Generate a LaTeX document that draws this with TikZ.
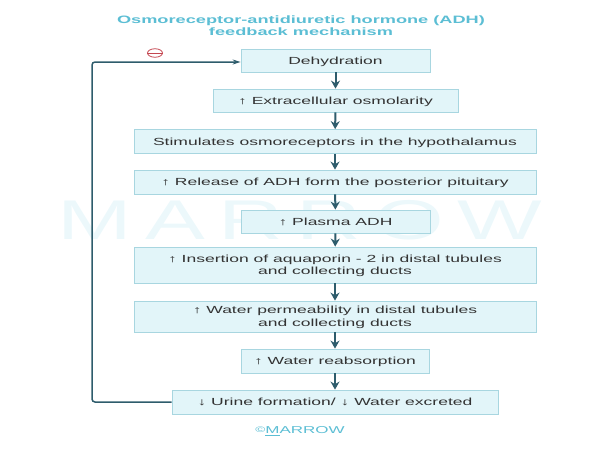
\documentclass[tikz,border=0pt]{standalone}
\usepackage{fontspec}
\setmainfont{Liberation Sans}
\newfontfamily\boxfont[FakeStretch=1.7]{Liberation Sans}
\newfontfamily\markfont[FakeStretch=1.6, LetterSpace=24]{Liberation Sans}
\usetikzlibrary{arrows.meta, positioning, shapes.geometric}
\definecolor{boxfill}{RGB}{226,245,249}
\definecolor{boxline}{RGB}{168,214,224}
\definecolor{flowline}{RGB}{46,92,108}
\definecolor{titlecyan}{RGB}{92,190,212}
\definecolor{markcyan}{RGB}{236,248,251}
\definecolor{minusred}{RGB}{196,70,80}

\begin{document}
\begin{tikzpicture}[
    x=1pt, y=-1pt,
    stepbox/.style={rectangle, draw=boxline, fill=boxfill, line width=0.8pt,
        inner sep=0pt, align=center, text depth=0pt,
        font=\boxfont\fontsize{10.3}{12.5}\selectfont, text=black!80},
    flow/.style={-{Stealth[length=8pt, width=9pt]}, line width=2pt, flowline},
    feedback/.style={-{Stealth[length=8pt, width=5pt]}, line width=1.5pt, flowline,
        rounded corners=3pt}
]
\useasboundingbox (0,0) rectangle (600,450);

% Wasserzeichen
\node (mark) at (300,220) {\markfont\fontsize{56}{56}\selectfont\color{markcyan}MARROW};

% Titel
\node[align=center, text=titlecyan, font=\boxfont\bfseries\fontsize{10.7}{12}\selectfont]
    (title) at (301,26) {Osmoreceptor-antidiuretic hormone (ADH)\\feedback mechanism};

% Kästen der Kette
\node[stepbox, minimum width=189, minimum height=23] (dehyd) at (335.5,60.5) {Dehydration};
\node[stepbox, minimum width=245, minimum height=23] (osmol) at (335.5,100.5) {↑ Extracellular osmolarity};
\node[stepbox, minimum width=402, minimum height=24] (recept) at (335,141.5) {Stimulates osmoreceptors in the hypothalamus};
\node[stepbox, minimum width=402, minimum height=24] (release) at (335,182) {↑ Release of ADH form the posterior pituitary};
\node[stepbox, minimum width=189, minimum height=23] (plasma) at (335.5,221.5) {↑ Plasma ADH};
\node[stepbox, minimum width=402, minimum height=36] (aqua) at (335,265) {↑ Insertion of aquaporin - 2 in distal tubules\\and collecting ducts};
\node[stepbox, minimum width=402, minimum height=31] (perm) at (335,316.5) {↑ Water permeability in distal tubules\\and collecting ducts};
\node[stepbox, minimum width=188, minimum height=24] (reabs) at (335,361) {↑ Water reabsorption};
\node[stepbox, minimum width=326, minimum height=24] (urine) at (335,402) {↓ Urine formation/ ↓ Water excreted};

% Pfeile zwischen den Kästen
\draw[flow] (dehyd) -- (osmol);
\draw[flow] (osmol) -- (recept);
\draw[flow] (recept) -- (release);
\draw[flow] (release) -- (plasma);
\draw[flow] (plasma) -- (aqua);
\draw[flow] (aqua) -- (perm);
\draw[flow] (perm) -- (reabs);
\draw[flow] (reabs) -- (urine);

% Rückkopplung
\coordinate (backlow) at (92,402);
\coordinate (backtop) at (92,62);
\draw[feedback] (urine.west) -- (backlow) -- (backtop) -- (dehyd.west |- backtop);

% Minuszeichen
\node[ellipse, draw=minusred, line width=0.8pt, minimum width=15, minimum height=8.5,
    inner sep=0pt] (minus) at (155,53) {};
\draw[minusred, line width=0.8pt] (minus.west) -- (minus.east);

% Copyright
\node[text=titlecyan, font=\boxfont\fontsize{10}{12}\selectfont] (copy) at (300,431)
    {\raisebox{0.2ex}{\fontsize{8}{8}\selectfont ©}\underline{M}ARROW};
\end{tikzpicture}
\end{document}
